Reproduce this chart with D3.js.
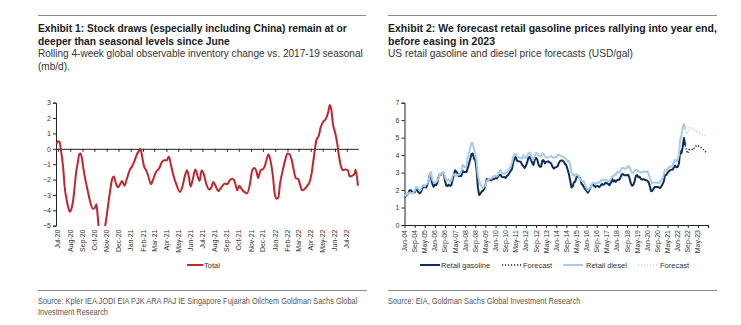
<!DOCTYPE html>
<html>
<head>
<meta charset="utf-8">
<script src="https://cdn.jsdelivr.net/npm/d3@7"></script>
<style>
  body { margin: 0; background: #fff; }
  svg { display: block; }
  .title { font-family: "Liberation Sans", Arial, sans-serif; font-weight: bold; font-size: 10.8px; fill: #1a1a1a; }
  .sub { font-family: "Liberation Sans", Arial, sans-serif; font-size: 10.2px; fill: #333; }
  .src { font-family: "Liberation Sans", Arial, sans-serif; font-size: 9.4px; fill: #555; }
  .tick text, .lbl { font-family: "Liberation Sans", Arial, sans-serif; font-size: 7px; fill: #333; }
  .leg { font-family: "Liberation Sans", Arial, sans-serif; font-size: 7.5px; fill: #333; }
</style>
</head>
<body>
<svg id="chart" width="741" height="325"></svg>
<script>
///////////////////////////////
//           Data            //
///////////////////////////////

// Exhibit 1 : rolling 4-week inventory change vs seasonal (mb/d)
var stockDates = [
  "2020-06-27","2020-07-01","2020-07-05","2020-07-08","2020-07-14","2020-07-18","2020-07-22","2020-07-26",
  "2020-07-31","2020-08-04","2020-08-08","2020-08-12","2020-08-16","2020-08-20","2020-08-24","2020-08-27",
  "2020-08-30","2020-09-04","2020-09-09","2020-09-14","2020-09-20","2020-09-27","2020-10-02","2020-10-06",
  "2020-10-08","2020-10-12","2020-10-19","2020-10-29","2020-11-04","2020-11-10","2020-11-15","2020-11-19",
  "2020-11-25","2020-11-30","2020-12-05","2020-12-10","2020-12-16","2020-12-22","2020-12-29","2021-01-05",
  "2021-01-11","2021-01-15","2021-01-21","2021-01-25","2021-01-30","2021-02-03","2021-02-09","2021-02-14",
  "2021-02-21","2021-02-27","2021-03-06","2021-03-13","2021-03-21","2021-03-27","2021-04-02","2021-04-07",
  "2021-04-13","2021-04-19","2021-04-26","2021-05-05","2021-05-11","2021-05-17","2021-05-23","2021-05-28",
  "2021-06-01","2021-06-07","2021-06-13","2021-06-20","2021-06-24","2021-06-29","2021-07-04","2021-07-11",
  "2021-07-18","2021-07-24","2021-07-28","2021-08-04","2021-08-10","2021-08-18","2021-08-27","2021-09-02",
  "2021-09-08","2021-09-15","2021-09-21","2021-09-27","2021-10-02","2021-10-08","2021-10-15","2021-10-22",
  "2021-10-29","2021-11-04","2021-11-09","2021-11-15","2021-11-19","2021-11-25","2021-12-02","2021-12-06",
  "2021-12-12","2021-12-15","2021-12-20","2021-12-26","2021-12-31","2022-01-05","2022-01-09","2022-01-13",
  "2022-01-20","2022-01-26","2022-02-01","2022-02-06","2022-02-12","2022-02-17","2022-02-22","2022-02-28",
  "2022-03-04","2022-03-10","2022-03-17","2022-03-23","2022-03-29","2022-04-03","2022-04-07","2022-04-11",
  "2022-04-15","2022-04-21","2022-04-26","2022-05-02","2022-05-09","2022-05-15","2022-05-19","2022-05-23",
  "2022-05-27","2022-06-02","2022-06-07","2022-06-11","2022-06-17","2022-06-21","2022-06-27","2022-07-04",
  "2022-07-08","2022-07-15","2022-07-21","2022-07-23","2022-07-29"
];
var stockTotal = [
  0.3, 0.5, 0.45, 0.0, -1.2, -2.5, -3.2, -3.7,
  -4.1, -3.9, -3.4, -2.5, -1.5, -0.9, -0.35, -0.3,
  -0.55, -1.4, -2.1, -2.7, -3.4, -3.9, -3.85, -3.6,
  -4.0, -5.1, -6.0, -4.9, -3.8, -2.7, -1.95, -1.8,
  -2.3, -2.5, -2.3, -2.1, -2.4, -1.95, -1.4, -1.1,
  -0.75, -0.45, -0.15, 0.0, -0.55, -1.1, -1.4, -1.75,
  -2.3, -1.95, -1.5, -1.3, -0.85, -0.75, -0.75, -0.5,
  -1.1, -1.75, -2.3, -2.8, -2.5, -1.85, -1.4, -1.85,
  -2.45, -1.95, -1.35, -1.85, -2.1, -1.4, -1.6, -2.3,
  -2.65, -2.5, -2.15, -2.45, -2.75, -2.5, -2.25, -2.3,
  -2.05, -1.95, -2.15, -2.7, -2.4, -2.6, -2.8, -2.9,
  -2.3, -1.4, -1.25, -1.5, -1.9, -1.4, -1.3, -1.1,
  -0.55, -0.35, -0.75, -1.75, -2.95, -3.25, -3.15, -2.3,
  -1.4, -0.75, -0.3, -0.35, -0.75, -1.4, -1.9, -1.95,
  -2.25, -2.7, -2.6, -2.4, -2.15, -1.6, -0.85, -0.1,
  0.55, 0.85, 1.4, 1.75, 1.95, 2.4, 2.85, 2.5,
  1.6, 1.0, 0.3, -0.45, -1.2, -1.4, -1.35, -1.4,
  -1.8, -1.75, -1.6, -1.35, -2.4
];
var stockTicks = [3, 2, 1, 0, -1, -2, -3, -4, -5];

// Exhibit 2 : monthly US retail prices from Jan-04 (USD/gal)
var priceStart = "2004-01";
var gasoline = [
  1.59,1.67,1.74,1.80,1.99,1.99,1.91,1.87,1.87,2.00,2.01,1.88,
  1.82,1.90,2.06,2.24,2.16,2.15,2.29,2.50,2.90,2.72,2.34,2.19,
  2.32,2.28,2.42,2.75,2.91,2.88,2.99,2.98,2.56,2.26,2.23,2.31,
  2.24,2.28,2.56,2.85,3.13,3.05,2.96,2.79,2.80,2.80,3.10,3.02,
  3.04,3.03,3.26,3.50,3.77,4.07,4.09,3.79,3.70,3.17,2.15,1.72,
  1.79,1.92,1.95,2.06,2.27,2.63,2.54,2.63,2.57,2.56,2.66,2.62,
  2.73,2.66,2.78,2.86,2.87,2.75,2.74,2.75,2.70,2.80,2.86,2.99,
  3.10,3.21,3.56,3.80,3.91,3.68,3.65,3.64,3.61,3.45,3.38,3.27,
  3.38,3.58,3.85,3.90,3.73,3.54,3.44,3.72,3.85,3.75,3.45,3.34,
  3.35,3.69,3.71,3.52,3.61,3.63,3.63,3.57,3.52,3.34,3.23,3.28,
  3.31,3.36,3.53,3.66,3.69,3.69,3.62,3.49,3.41,3.18,2.91,2.55,
  2.15,2.21,2.45,2.47,2.72,2.80,2.79,2.64,2.36,2.29,2.15,2.04,
  1.95,1.85,1.96,2.14,2.28,2.36,2.24,2.18,2.22,2.23,2.17,2.24,
  2.35,2.30,2.33,2.42,2.39,2.35,2.28,2.38,2.65,2.49,2.56,2.47,
  2.56,2.60,2.59,2.75,2.91,2.90,2.85,2.85,2.85,2.87,2.66,2.37,
  2.25,2.31,2.50,2.81,2.86,2.73,2.76,2.64,2.59,2.63,2.60,2.56,
  2.55,2.44,2.23,1.93,1.96,2.08,2.18,2.18,2.18,2.16,2.11,2.20,
  2.33,2.50,2.85,2.86,2.98,3.06,3.14,3.16,3.17,3.29,3.40,3.30,
  3.32,3.52,4.22,4.11,4.44,4.98,4.56
];
var diesel = [
  1.65,1.72,1.76,1.80,1.85,1.82,1.82,1.86,1.94,2.16,2.19,2.06,
  1.96,2.04,2.22,2.29,2.20,2.32,2.37,2.50,2.86,3.04,2.60,2.45,
  2.45,2.45,2.55,2.70,2.90,2.91,2.95,3.05,2.75,2.56,2.56,2.61,
  2.47,2.55,2.80,2.90,2.84,2.81,2.88,2.87,2.95,3.08,3.44,3.34,
  3.30,3.37,3.87,4.09,4.43,4.69,4.70,4.30,4.14,3.66,2.87,2.51,
  2.32,2.20,2.12,2.22,2.23,2.54,2.54,2.63,2.64,2.66,2.80,2.74,
  2.84,2.78,2.87,3.07,3.14,2.98,2.93,2.96,2.94,3.06,3.16,3.24,
  3.35,3.58,3.91,4.07,4.06,3.93,3.89,3.85,3.85,3.79,4.01,3.85,
  3.84,3.96,4.09,4.14,4.03,3.80,3.73,3.99,4.12,4.10,4.00,3.96,
  3.92,4.11,4.07,3.93,3.87,3.85,3.87,3.91,3.96,3.88,3.84,3.88,
  3.87,3.99,4.02,3.96,3.94,3.91,3.87,3.82,3.77,3.65,3.66,3.45,
  2.99,2.86,2.90,2.78,2.91,2.87,2.78,2.58,2.52,2.53,2.47,2.29,
  2.11,1.98,2.09,2.15,2.30,2.42,2.40,2.35,2.40,2.45,2.42,2.50,
  2.57,2.56,2.56,2.59,2.56,2.51,2.50,2.60,2.78,2.78,2.90,2.86,
  3.02,3.03,2.98,3.13,3.26,3.27,3.22,3.23,3.27,3.38,3.30,3.12,
  2.98,3.00,3.08,3.14,3.16,3.06,3.04,3.00,3.02,3.05,3.07,3.04,
  3.08,2.91,2.73,2.51,2.39,2.43,2.44,2.43,2.41,2.39,2.47,2.59,
  2.67,2.90,3.16,3.12,3.22,3.29,3.34,3.35,3.38,3.61,3.73,3.64,
  3.72,4.00,4.85,5.12,5.57,5.78,5.49
];
// forecasts, Jul-22 to Dec-23
var forecastStart = "2022-07";
var gasolineForecast = [4.56,4.30,4.10,4.30,4.30,4.35,4.30,4.40,4.50,4.55,4.55,4.50,4.45,4.40,4.35,4.25,4.20,4.12];
var dieselForecast   = [5.49,5.20,5.35,5.55,5.60,5.55,5.50,5.45,5.40,5.35,5.30,5.25,5.25,5.20,5.15,5.15,5.10,5.10];
var priceTicks = [0, 1, 2, 3, 4, 5, 6, 7];

var legend1 = ["Total"];
var legend2 = ["Retail gasoline", "Forecast", "Retail diesel", "Forecast"];

///////////////////////////////
//          Layout           //
///////////////////////////////

var svg = d3.select("#chart");
var parseDay = d3.timeParse("%Y-%m-%d");
var parseMonth = d3.timeParse("%Y-%m");
var fmt = d3.timeFormat("%b-%y");

var RED = "#bd272d", NAVY = "#0e2d5a", LIGHT = "#a9cbe8";

// block of text lines squeezed horizontally so its first line spans `width` (condensed face look-alike)
function textBlock(cls, x, y, lineGap, lines, width) {
  var g = svg.append("g");
  lines.forEach(function(t, i) {
    g.append("text").attr("class", cls).attr("x", 0).attr("y", y + i * lineGap).text(t);
  });
  var natural = g.select("text").node().getComputedTextLength();
  g.attr("transform", "translate(" + x + ",0) scale(" + (width / natural) + ",1)");
  return g;
}

function rule(x, x2, y) {
  svg.append("line").attr("x1", x).attr("x2", x2).attr("y1", y).attr("y2", y)
    .attr("stroke", "#8c8c8c").attr("stroke-width", 1);
}

rule(38, 366, 15.5);
rule(388, 717, 15.5);
textBlock("title", 38, 32.5, 13, ["Exhibit 1: Stock draws (especially including China) remain at or", "deeper than seasonal levels since June"], 309);
textBlock("sub", 38, 57.5, 12.5, ["Rolling 4-week global observable inventory change vs. 2017-19 seasonal", "(mb/d)."], 325);
textBlock("title", 388, 32.5, 13, ["Exhibit 2: We forecast retail gasoline prices rallying into year end,", "before easing in 2023"], 329);
textBlock("sub", 388, 57.5, 12.5, ["US retail gasoline and diesel price forecasts (USD/gal)"], 245);

rule(38, 367, 290.5);
rule(388, 717, 290.5);
textBlock("src", 38, 304, 11.5, ["Source: Kpler IEA JODI EIA PJK ARA PAJ IE Singapore Fujairah Oilchem Goldman Sachs Global", "Investment Research"], 319);
textBlock("src", 388, 304, 11.5, ["Source: EIA, Goldman Sachs Global Investment Research"], 192);

// rotated date labels under an axis
function dateLabels(g, dates, x, top) {
  g.selectAll("text.lbl").data(dates).enter()
    .append("text").attr("class", "lbl")
    .attr("text-anchor", "end")
    .attr("transform", function(d) { return "translate(" + (x(d) + 2.5) + "," + top + ") rotate(-90)"; })
    .text(function(d) { return fmt(d); });
}

///////////////////////////////
//        Exhibit 1          //
///////////////////////////////

var x1 = d3.scaleTime().domain([parseDay("2020-06-26"), parseDay("2022-07-30")]).range([56, 358.3]);
var y1 = d3.scaleLinear().domain([-5, 3]).range([225.7, 102.7]);
var g1 = svg.append("g");

svg.append("defs").append("clipPath").attr("id", "clip1")
  .append("rect").attr("x", 56).attr("y", 95).attr("width", 305).attr("height", 131);

g1.append("g").attr("transform", "translate(56,0)")
  .call(d3.axisLeft(y1).tickValues(stockTicks).tickSize(3).tickFormat(d3.format("d")))
  .call(function(a) {
    a.select(".domain").attr("stroke", "#222");
    a.selectAll(".tick line").attr("stroke", "#222");
    a.selectAll(".tick text").attr("x", -5);
  });

var months1 = d3.timeMonth.range(parseDay("2020-07-01"), parseDay("2022-07-02"));
g1.append("g").attr("transform", "translate(0," + y1(0) + ")")
  .call(d3.axisBottom(x1).tickValues(months1).tickSize(3).tickFormat("").tickSizeOuter(0))
  .call(function(a) {
    a.select(".domain").attr("stroke", "#222");
    a.selectAll(".tick line").attr("stroke", "#222");
  });
dateLabels(g1, months1, x1, 229.5);

var stockData = stockDates.map(function(d, i) { return { date: parseDay(d), v: stockTotal[i] }; });
g1.append("path").datum(stockData)
  .attr("clip-path", "url(#clip1)")
  .attr("fill", "none").attr("stroke", RED).attr("stroke-width", 2).attr("stroke-linejoin", "round")
  .attr("d", d3.line().x(function(d) { return x1(d.date); }).y(function(d) { return y1(d.v); }).curve(d3.curveMonotoneX));

// legend
g1.append("line").attr("x1", 187).attr("x2", 203.5).attr("y1", 265).attr("y2", 265)
  .attr("stroke", RED).attr("stroke-width", 2);
g1.append("text").attr("class", "leg").attr("x", 204).attr("y", 267.7).text(legend1[0]);

///////////////////////////////
//        Exhibit 2          //
///////////////////////////////

var start2 = parseMonth(priceStart);
var x2 = d3.scaleTime().domain([start2, d3.timeMonth.offset(start2, 240)]).range([404.5, 708]);
var y2 = d3.scaleLinear().domain([0, 7]).range([225, 102.7]);
var g2 = svg.append("g");

g2.append("g").attr("transform", "translate(404.5,0)")
  .call(d3.axisLeft(y2).tickValues(priceTicks).tickSize(3).tickFormat(d3.format("d")))
  .call(function(a) {
    a.select(".domain").attr("stroke", "#222");
    a.selectAll(".tick line").attr("stroke", "#222");
    a.selectAll(".tick text").attr("x", -5);
  });

var labelMonths = d3.range(0, 233, 8).map(function(i) { return d3.timeMonth.offset(start2, i); });
g2.append("g").attr("transform", "translate(0,225)")
  .call(d3.axisBottom(x2).tickValues(labelMonths.concat([d3.timeMonth.offset(start2, 240)]))
    .tickSize(3).tickFormat("").tickSizeOuter(0))
  .call(function(a) {
    a.select(".domain").attr("stroke", "#222");
    a.selectAll(".tick line").attr("stroke", "#222");
  });
dateLabels(g2, labelMonths, x2, 230);

function series(values, from) {
  var s = parseMonth(from);
  return values.map(function(v, i) { return { date: d3.timeMonth.offset(s, i), v: v }; });
}
var line2 = d3.line().x(function(d) { return x2(d.date); }).y(function(d) { return y2(d.v); });

g2.append("path").datum(series(gasoline, priceStart))
  .attr("fill", "none").attr("stroke", NAVY).attr("stroke-width", 2).attr("stroke-linejoin", "round").attr("d", line2);
g2.append("path").datum(series(diesel, priceStart))
  .attr("fill", "none").attr("stroke", LIGHT).attr("stroke-width", 2).attr("stroke-linejoin", "round").attr("d", line2);
g2.append("path").datum(series(gasolineForecast, forecastStart))
  .attr("fill", "none").attr("stroke", NAVY).attr("stroke-width", 1.5).attr("stroke-dasharray", "1.2,1.8").attr("d", line2);
g2.append("path").datum(series(dieselForecast, forecastStart))
  .attr("fill", "none").attr("stroke", LIGHT).attr("stroke-width", 1.2).attr("stroke-dasharray", "1.2,1.8").attr("d", line2);

// legend
var legItems = [
  { x: 420, tx: 441, color: NAVY, w: 2, dash: null },
  { x: 502, tx: 523, color: NAVY, w: 1.5, dash: "1.2,1.8" },
  { x: 563, tx: 586, color: LIGHT, w: 2, dash: null },
  { x: 638, tx: 660, color: LIGHT, w: 1.2, dash: "1.2,1.8" }
];
legItems.forEach(function(d, i) {
  g2.append("line").attr("x1", d.x).attr("x2", d.x + 20).attr("y1", 265).attr("y2", 265)
    .attr("stroke", d.color).attr("stroke-width", d.w).attr("stroke-dasharray", d.dash);
  g2.append("text").attr("class", "leg").attr("x", d.tx).attr("y", 267.7).text(legend2[i]);
});
</script>
</body>
</html>
